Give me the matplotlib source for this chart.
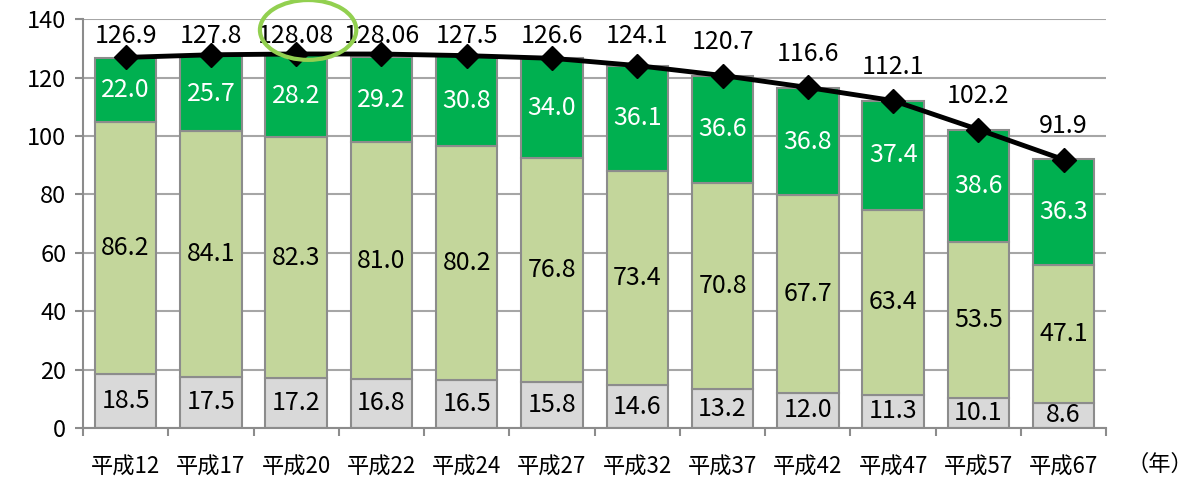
import numpy as np
import matplotlib.pyplot as plt
from matplotlib.patches import Ellipse

plt.rcParams['font.family'] = ['Noto Sans CJK JP', 'DejaVu Sans']

# 年次
years = ["平成12", "平成17", "平成20", "平成22", "平成24", "平成27",
         "平成32", "平成37", "平成42", "平成47", "平成57", "平成67"]
# 人口（百万人）
young = [18.5, 17.5, 17.2, 16.8, 16.5, 15.8, 14.6, 13.2, 12.0, 11.3, 10.1, 8.6]
working = [86.2, 84.1, 82.3, 81.0, 80.2, 76.8, 73.4, 70.8, 67.7, 63.4, 53.5, 47.1]
elderly = [22.0, 25.7, 28.2, 29.2, 30.8, 34.0, 36.1, 36.6, 36.8, 37.4, 38.6, 36.3]
total = [126.9, 127.8, 128.08, 128.06, 127.5, 126.6, 124.1, 120.7, 116.6, 112.1, 102.2, 91.9]
total_labels = ["126.9", "127.8", "128.08", "128.06", "127.5", "126.6",
                "124.1", "120.7", "116.6", "112.1", "102.2", "91.9"]
highlight = 2

x = np.arange(len(years))
young = np.array(young)
working = np.array(working)
elderly = np.array(elderly)

fig = plt.figure(figsize=(11.92, 4.79), dpi=100)
ax = fig.add_axes([0.0696, 0.1065, 0.8585, 0.8535])

edge = "#8c8c8c"
w = 0.72
fs = 18
ax.bar(x, young, width=w, color="#d9d9d9", edgecolor=edge, linewidth=1.5, zorder=2)
ax.bar(x, working, width=w, bottom=young, color="#c3d69b", edgecolor=edge, linewidth=1.5, zorder=2)
ax.bar(x, elderly, width=w, bottom=young + working, color="#00b050", edgecolor=edge, linewidth=1.5, zorder=2)
ax.plot(x, total, color="black", lw=3.5, marker="D", markersize=12, zorder=4)

for i in x:
    ax.text(i, young[i] / 2, f"{young[i]:.1f}", ha="center", va="center", fontsize=fs, zorder=5)
    ax.text(i, young[i] + working[i] / 2, f"{working[i]:.1f}", ha="center", va="center", fontsize=fs, zorder=5)
    ax.text(i, young[i] + working[i] + elderly[i] / 2, f"{elderly[i]:.1f}", ha="center", va="center",
            fontsize=fs, color="white", zorder=5)
    ax.text(i, min(total[i] + 11.5, 134.3), total_labels[i], ha="center", va="center", fontsize=fs, zorder=5)

# 強調の楕円
ax.add_patch(Ellipse((highlight + 0.14, 136.3), 1.13, 20.5, fill=False, edgecolor="#92d050",
                     lw=3, clip_on=False, zorder=6))

ax.set_xlim(-0.5, len(years) - 0.5)
ax.set_ylim(0, 140)
ax.set_yticks(range(0, 141, 20))
ax.set_xticks(x)
ax.set_xticklabels(years, fontsize=16)
ax.set_xticks(np.arange(-0.5, len(years), 1), minor=True)
ax.tick_params(axis="x", which="major", length=0, pad=20)
ax.tick_params(axis="x", which="minor", length=6, color=edge, width=1.5)
ax.tick_params(axis="y", labelsize=17, length=6, color=edge, width=1.5, pad=6)
ax.grid(axis="y", color="#a6a6a6", lw=1.5, zorder=0)
ax.set_axisbelow(True)
for s in ["top", "right"]:
    ax.spines[s].set_visible(False)
for s in ["left", "bottom"]:
    ax.spines[s].set_color(edge)
    ax.spines[s].set_linewidth(1.5)

fig.text(0.973, 0.03, "（年）", ha="center", va="center", fontsize=16)

fig.savefig("out.png", dpi=100)
